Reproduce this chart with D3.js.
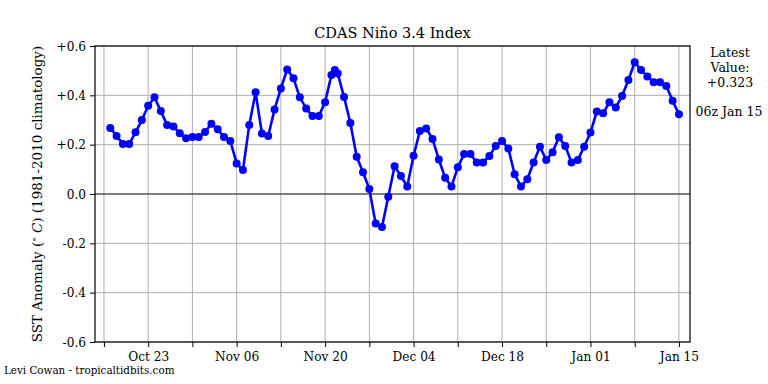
<!DOCTYPE html>
<html lang="en">
<head>
    <meta charset="UTF-8">
    <title>CDAS Niño 3.4 Index</title>
    <script src="https://cdn.jsdelivr.net/npm/d3@7/dist/d3.min.js"></script>
    <style>
        body { margin: 0; background: #fff; }
        text { font-family: 'DejaVu Serif Condensed', 'DejaVu Serif', serif; fill: #000; }
    </style>
</head>
<body>
<script>
    // daily dates (one extra reading on Nov 21)
    const dates = [
        '2012-10-17', '2012-10-18', '2012-10-19', '2012-10-20', '2012-10-21', '2012-10-22', '2012-10-23',
        '2012-10-24', '2012-10-25', '2012-10-26', '2012-10-27', '2012-10-28', '2012-10-29', '2012-10-30',
        '2012-10-31', '2012-11-01', '2012-11-02', '2012-11-03', '2012-11-04', '2012-11-05', '2012-11-06',
        '2012-11-07', '2012-11-08', '2012-11-09', '2012-11-10', '2012-11-11', '2012-11-12', '2012-11-13',
        '2012-11-14', '2012-11-15', '2012-11-16', '2012-11-17', '2012-11-18', '2012-11-19', '2012-11-20',
        '2012-11-21', '2012-11-21T13', '2012-11-22', '2012-11-23', '2012-11-24', '2012-11-25', '2012-11-26',
        '2012-11-27', '2012-11-28', '2012-11-29', '2012-11-30', '2012-12-01', '2012-12-02', '2012-12-03',
        '2012-12-04', '2012-12-05', '2012-12-06', '2012-12-07', '2012-12-08', '2012-12-09', '2012-12-10',
        '2012-12-11', '2012-12-12', '2012-12-13', '2012-12-14', '2012-12-15', '2012-12-16', '2012-12-17',
        '2012-12-18', '2012-12-19', '2012-12-20', '2012-12-21', '2012-12-22', '2012-12-23', '2012-12-24',
        '2012-12-25', '2012-12-26', '2012-12-27', '2012-12-28', '2012-12-29', '2012-12-30', '2012-12-31',
        '2013-01-01', '2013-01-02', '2013-01-03', '2013-01-04', '2013-01-05', '2013-01-06', '2013-01-07',
        '2013-01-08', '2013-01-09', '2013-01-10', '2013-01-11', '2013-01-12', '2013-01-13', '2013-01-14',
        '2013-01-15'
    ];

    // SST anomaly values
    const values = [
        0.268, 0.235, 0.203, 0.203, 0.250, 0.300, 0.358,
        0.392, 0.336, 0.280, 0.274, 0.246, 0.226, 0.231,
        0.231, 0.251, 0.285, 0.262, 0.231, 0.215, 0.124,
        0.097, 0.280, 0.412, 0.245, 0.235, 0.343, 0.428,
        0.505, 0.469, 0.392, 0.347, 0.316, 0.316, 0.372,
        0.482, 0.503, 0.489, 0.393, 0.288, 0.151, 0.088,
        0.020, -0.120, -0.134, -0.011, 0.113, 0.073, 0.030,
        0.155, 0.255, 0.266, 0.223, 0.140, 0.066, 0.030,
        0.108, 0.162, 0.162, 0.128, 0.128, 0.154, 0.195,
        0.215, 0.184, 0.080, 0.030, 0.060, 0.128, 0.192,
        0.138, 0.169, 0.230, 0.195, 0.128, 0.138, 0.192,
        0.249, 0.334, 0.327, 0.372, 0.351, 0.397, 0.462,
        0.534, 0.503, 0.476, 0.453, 0.453, 0.438, 0.378,
        0.323
    ];

    // axis ticks
    const yTicks = [-0.6, -0.4, -0.2, 0.0, 0.2, 0.4, 0.6];
    const yTickLabels = ['-0.6', '-0.4', '-0.2', '0.0', '+0.2', '+0.4', '+0.6'];
    const xTickDates = ['2012-10-16', '2012-10-23', '2012-10-30', '2012-11-06', '2012-11-13', '2012-11-20',
        '2012-11-27', '2012-12-04', '2012-12-11', '2012-12-18', '2012-12-25', '2013-01-01', '2013-01-08',
        '2013-01-15'];
    const xTickLabels = ['', 'Oct 23', '', 'Nov 06', '', 'Nov 20', '', 'Dec 04', '', 'Dec 18', '', 'Jan 01', '', 'Jan 15'];

    const latestLines = ['Latest', 'Value:', '+0.323'];
    const latestTime = '06z Jan 15';

    const width = 768;
    const height = 384;
    const plot = { left: 95, right: 690, top: 46, bottom: 342 };

    const parse = s => new Date(s.length > 10 ? s + ':00:00' : s + 'T00:00:00');
    const data = dates.map((d, i) => ({ date: parse(d), value: values[i] }));

    const svg = d3.select('body')
        .append('svg')
        .attr('width', width)
        .attr('height', height);

    // x比例尺: 左右各留一点空白
    const xStart = d3.timeHour.offset(parse(xTickDates[0]), -34);
    const xEnd = d3.timeHour.offset(parse(xTickDates[xTickDates.length - 1]), 42);
    const xScale = d3.scaleTime()
        .domain([xStart, xEnd])
        .range([plot.left, plot.right]);

    const yScale = d3.scaleLinear()
        .domain([-0.6, 0.6])
        .range([plot.bottom, plot.top]);

    const tickDates = xTickDates.map(parse);

    // grid
    svg.append('g')
        .selectAll('line')
        .data(tickDates)
        .enter()
        .append('line')
        .attr('x1', d => xScale(d))
        .attr('x2', d => xScale(d))
        .attr('y1', plot.top)
        .attr('y2', plot.bottom)
        .attr('stroke', '#b0b0b0')
        .attr('stroke-width', 1);

    svg.append('g')
        .selectAll('line')
        .data(yTicks.filter(v => v !== 0))
        .enter()
        .append('line')
        .attr('x1', plot.left)
        .attr('x2', plot.right)
        .attr('y1', d => yScale(d))
        .attr('y2', d => yScale(d))
        .attr('stroke', '#b0b0b0')
        .attr('stroke-width', 1);

    // zero line
    svg.append('line')
        .attr('x1', plot.left)
        .attr('x2', plot.right)
        .attr('y1', yScale(0))
        .attr('y2', yScale(0))
        .attr('stroke', '#555')
        .attr('stroke-width', 1.5);

    // axes
    const xAxis = d3.axisBottom(xScale)
        .tickValues(tickDates)
        .tickFormat((d, i) => xTickLabels[i])
        .tickSize(5)
        .tickPadding(4);

    const yAxis = d3.axisLeft(yScale)
        .tickValues(yTicks)
        .tickFormat((d, i) => yTickLabels[i])
        .tickSize(5)
        .tickPadding(4);

    const gx = svg.append('g')
        .attr('transform', `translate(0, ${plot.bottom})`)
        .call(xAxis);
    const gy = svg.append('g')
        .attr('transform', `translate(${plot.left}, 0)`)
        .call(yAxis);

    [gx, gy].forEach(g => {
        g.select('.domain').remove();
        g.selectAll('text').style('font-size', '13.5px')
            .style('font-family', "'DejaVu Serif Condensed', 'DejaVu Serif', serif");
        g.selectAll('line').attr('stroke', '#000');
    });

    // frame
    svg.append('rect')
        .attr('x', plot.left)
        .attr('y', plot.top)
        .attr('width', plot.right - plot.left)
        .attr('height', plot.bottom - plot.top)
        .attr('fill', 'none')
        .attr('stroke', '#000')
        .attr('stroke-width', 1.2);

    // line + points
    const line = d3.line()
        .x(d => xScale(d.date))
        .y(d => yScale(d.value));

    svg.append('path')
        .datum(data)
        .attr('d', line)
        .attr('fill', 'none')
        .attr('stroke', '#0000ff')
        .attr('stroke-width', 2.6)
        .attr('stroke-linejoin', 'round');

    svg.append('g')
        .selectAll('circle')
        .data(data)
        .enter()
        .append('circle')
        .attr('cx', d => xScale(d.date))
        .attr('cy', d => yScale(d.value))
        .attr('r', 4)
        .attr('fill', '#0000ff');

    // title
    svg.append('text')
        .attr('x', (plot.left + plot.right) / 2)
        .attr('y', 38)
        .attr('text-anchor', 'middle')
        .style('font-family', "'DejaVu Serif', serif")
        .style('font-size', '14.5px')
        .text('CDAS Niño 3.4 Index');

    // y label
    const ylab = svg.append('text')
        .attr('transform', `translate(42, ${(plot.top + plot.bottom) / 2}) rotate(-90)`)
        .attr('text-anchor', 'middle')
        .style('font-family', "'DejaVu Serif', serif")
        .style('font-size', '13.5px');
    ylab.append('tspan').text('SST Anomaly (');
    ylab.append('tspan').attr('dy', -5).style('font-size', '9px').text('∘');
    ylab.append('tspan').attr('dy', 5).style('font-style', 'italic').text(' C');
    ylab.append('tspan').text(') (1981-2010 climatology)');

    // latest value note
    svg.append('g')
        .selectAll('text')
        .data(latestLines)
        .enter()
        .append('text')
        .attr('x', 730)
        .attr('y', (d, i) => 57 + i * 15)
        .attr('text-anchor', 'middle')
        .style('font-family', "'DejaVu Serif', serif")
        .style('font-size', '12.5px')
        .text(d => d);

    svg.append('text')
        .attr('x', 729)
        .attr('y', 116)
        .attr('text-anchor', 'middle')
        .style('font-family', "'DejaVu Serif', serif")
        .style('font-size', '12.5px')
        .text(latestTime);

    // footer
    svg.append('text')
        .attr('x', 4)
        .attr('y', 374)
        .style('font-size', '11.5px')
        .text('Levi Cowan - tropicaltidbits.com');
</script>
</body>
</html>
